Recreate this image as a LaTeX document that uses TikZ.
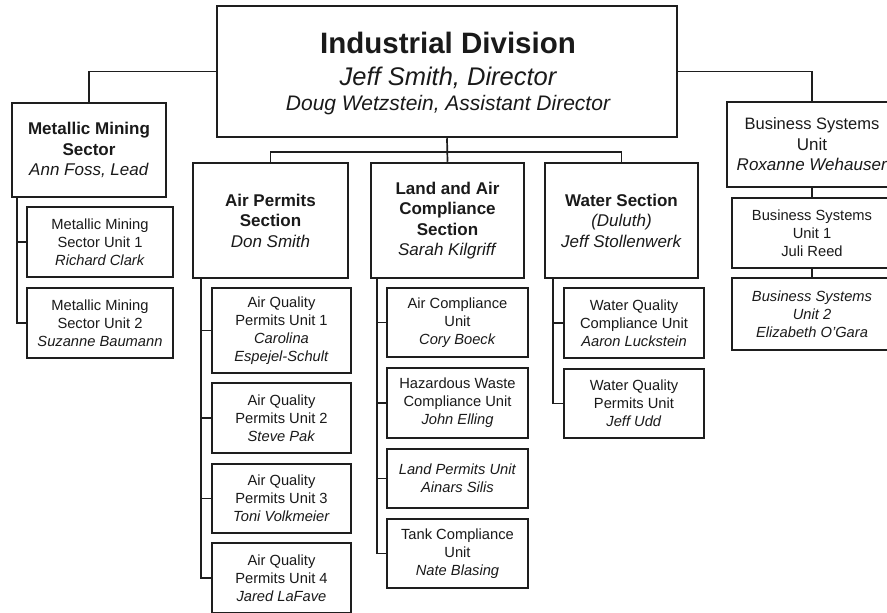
\documentclass[tikz,border=0pt]{standalone}
\usepackage{fontspec}
\setmainfont{Liberation Sans}
\definecolor{linecol}{HTML}{1E1E1E}
\definecolor{txtcol}{HTML}{1A1A1A}
\newcommand\orgunitfont{\fontsize{14.7}{18}\selectfont}
\newcommand\orgsecfont{\fontsize{17}{20.5}\selectfont}
\tikzset{
  majorbox/.style={draw=linecol, line width=2.5pt, rectangle, inner sep=0pt,
    align=center, text=txtcol, font=\orgsecfont},
  unitbox/.style={draw=linecol, line width=1.6pt, rectangle, inner sep=0pt,
    align=center, text=txtcol, font=\orgunitfont},
  conn/.style={draw=linecol, line width=1.7pt},
  headtext/.style={anchor=base, inner sep=0pt, text=txtcol}
}
\begin{document}
\begin{tikzpicture}[x=1pt, y=-1pt]
\useasboundingbox (0,0) rectangle (887,613);
\clip (0,0) rectangle (887,613);
\fill[white] (0,0) rectangle (887,613);

% division head
\node[majorbox, minimum width=460, minimum height=131] (div) at (447,71.5) {};
\node[headtext, font=\fontsize{29.5}{32}\selectfont\bfseries] (divtitle) at (448,53) {Industrial Division};
\node[headtext, font=\fontsize{25.5}{28}\selectfont\itshape] (divdir) at (448,85) {Jeff Smith, Director};
\node[headtext, font=\fontsize{21}{24}\selectfont\itshape] (divasst) at (448,110) {Doug Wetzstein, Assistant Director};

% side branches
\node[majorbox, minimum width=154, minimum height=94] (mms) at (89,150)
  {\textbf{Metallic Mining}\\\textbf{Sector}\\\textit{Ann Foss, Lead}};
\node[majorbox, minimum width=170, minimum height=85] (bsu) at (812,144.5)
  {\fontsize{16.5}{20}\selectfont Business Systems\\Unit\\\textit{Roxanne Wehauser}};

% sections
\node[majorbox, minimum width=155, minimum height=115] (aps) at (270.5,220.5)
  {\textbf{Air Permits}\\\textbf{Section}\\\textit{Don Smith}};
\node[majorbox, minimum width=153, minimum height=115] (lac) at (447.5,220.5)
  {\textbf{Land and Air}\\\textbf{Compliance}\\\textbf{Section}\\\textit{Sarah Kilgriff}};
\node[majorbox, minimum width=153, minimum height=115] (ws) at (621.5,220.5)
  {\textbf{Water Section}\\\textit{(Duluth)}\\\textit{Jeff Stollenwerk}};

% metallic mining units
\node[unitbox, minimum width=146, minimum height=70] (mm1) at (100,242)
  {Metallic Mining\\Sector Unit 1\\\textit{Richard Clark}};
\node[unitbox, minimum width=146, minimum height=70] (mm2) at (100,323)
  {Metallic Mining\\Sector Unit 2\\\textit{Suzanne Baumann}};

% air permits units
\node[unitbox, minimum width=139, minimum height=85] (aq1) at (281.5,330.5)
  {Air Quality\\Permits Unit 1\\\textit{Carolina}\\\textit{Espejel-Schult}};
\node[unitbox, minimum width=139, minimum height=70] (aq2) at (281.5,418)
  {Air Quality\\Permits Unit 2\\\textit{Steve Pak}};
\node[unitbox, minimum width=139, minimum height=69] (aq3) at (281.5,498.5)
  {Air Quality\\Permits Unit 3\\\textit{Toni Volkmeier}};
\node[unitbox, minimum width=139, minimum height=70] (aq4) at (281.5,578)
  {Air Quality\\Permits Unit 4\\\textit{Jared LaFave}};

% land and air compliance units
\node[unitbox, minimum width=141, minimum height=69] (ac1) at (457.5,322.5)
  {Air Compliance\\Unit\\\textit{Cory Boeck}};
\node[unitbox, minimum width=141, minimum height=70] (ac2) at (457.5,403)
  {Hazardous Waste\\Compliance Unit\\\textit{John Elling}};
\node[unitbox, minimum width=141, minimum height=59] (ac3) at (457.5,478.5)
  {\textit{Land Permits Unit}\\\textit{Ainars Silis}};
\node[unitbox, minimum width=141, minimum height=69] (ac4) at (457.5,553.5)
  {Tank Compliance\\Unit\\\textit{Nate Blasing}};

% water units
\node[unitbox, minimum width=140, minimum height=70] (wq1) at (634,323)
  {Water Quality\\Compliance Unit\\\textit{Aaron Luckstein}};
\node[unitbox, minimum width=140, minimum height=69] (wq2) at (634,403.5)
  {Water Quality\\Permits Unit\\\textit{Jeff Udd}};

% business systems units
\node[unitbox, minimum width=160, minimum height=70] (bs1) at (812,233)
  {Business Systems\\Unit 1\\Juli Reed};
\node[unitbox, minimum width=160, minimum height=72] (bs2) at (812,314)
  {\textit{Business Systems}\\\textit{Unit 2}\\\textit{Elizabeth O'Gara}};

% connectors from the division head
\coordinate (bus) at (447,152);
\draw[conn] (div.west) -| (mms.north);
\draw[conn] (div.east) -| (bsu.north);
\draw[conn] (div.south) -- (lac.north);
\draw[conn] (aps.north) |- (bus) -| (ws.north);

% unit connectors
\draw[conn] ([xshift=6pt]mms.south west) |- (mm1.west);
\draw[conn] ([xshift=6pt]mms.south west) |- (mm2.west);
\foreach \u in {aq1,aq2,aq3,aq4}
  \draw[conn] ([xshift=9pt]aps.south west) |- (\u.west);
\foreach \u in {ac1,ac2,ac3,ac4}
  \draw[conn] ([xshift=7pt]lac.south west) |- (\u.west);
\foreach \u in {wq1,wq2}
  \draw[conn] ([xshift=9pt]ws.south west) |- (\u.west);
\draw[conn] (bsu.south) -- (bs1.north);
\draw[conn] (bs1.south) -- (bs2.north);
\end{tikzpicture}
\end{document}
